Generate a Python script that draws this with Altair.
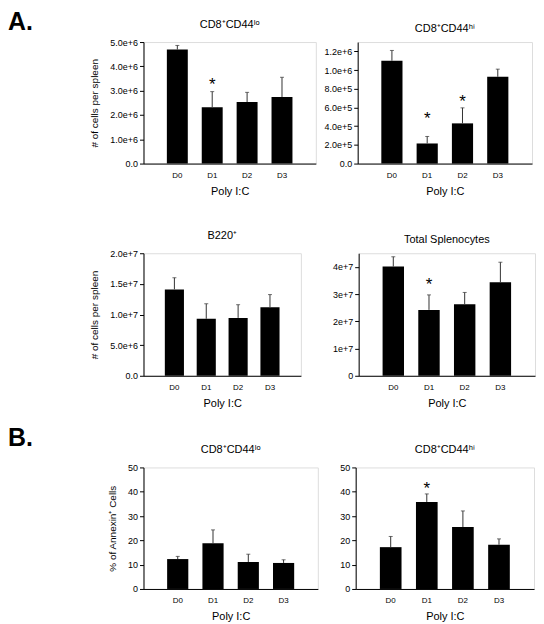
import altair as alt
import pandas as pd

days = ["D0", "D1", "D2", "D3"]

# Panel A1: CD8+CD44lo (cells per spleen)
a1_mean = [4.69e6, 2.32e6, 2.53e6, 2.74e6]
a1_top = [4.86e6, 2.96e6, 2.93e6, 3.55e6]
a1_star = [None, 3.45e6, None, None]

# Panel A2: CD8+CD44hi
a2_mean = [1.10e6, 2.15e5, 4.30e5, 9.28e5]
a2_top = [1.21e6, 2.90e5, 5.96e5, 1.01e6]
a2_star = [None, 5.3e5, 7.1e5, None]

# Panel A3: B220+
a3_mean = [1.41e7, 9.3e6, 9.45e6, 1.12e7]
a3_top = [1.60e7, 1.175e7, 1.16e7, 1.325e7]
a3_star = [None, None, None, None]

# Panel A4: Total splenocytes
a4_mean = [4.01e7, 2.42e7, 2.63e7, 3.43e7]
a4_top = [4.37e7, 2.97e7, 3.06e7, 4.17e7]
a4_star = [None, 3.5e7, None, None]

# Panel B1: % Annexin+ CD8+CD44lo
b1_mean = [12.3, 18.85, 11.1, 10.7]
b1_top = [13.4, 24.3, 14.3, 12.0]
b1_star = [None, None, None, None]

# Panel B2: % Annexin+ CD8+CD44hi
b2_mean = [17.2, 35.8, 25.5, 18.2]
b2_top = [21.6, 39.1, 32.1, 20.6]
b2_star = [None, 43.2, None, None]

FONT = "Liberation Sans"


def panel(title, mean, top, star, ymax, ticks, label_expr, width, height, ytitle=None):
    df = pd.DataFrame({"day": days, "mean": mean, "top": top, "star": star})
    x = alt.X("day:N", title="Poly I:C",
              scale=alt.Scale(paddingInner=0.4, paddingOuter=0.67),
              axis=alt.Axis(labelAngle=0, ticks=False, domainColor="black",
                            labelFontSize=8, titleFontSize=11, labelPadding=8,
                            titlePadding=6, labelColor="black", titleColor="black",
                            titleFontWeight="normal", labelFont=FONT, titleFont=FONT))
    yaxis_kwargs = dict(values=ticks, grid=False, tickColor="black", tickSize=4,
                        domainColor="black", labelFontSize=9, labelColor="black",
                        labelFont=FONT, titleFont=FONT, titleFontSize=10,
                        titleFontWeight="normal", titleColor="black", titlePadding=10,
                        labelOverlap=False, title=ytitle if ytitle else None)
    if label_expr:
        yaxis_kwargs["labelExpr"] = label_expr
    yaxis = alt.Axis(**yaxis_kwargs)
    yscale = alt.Scale(domain=[0, ymax], nice=False, zero=True)

    def Y(field):
        return alt.Y(field, type="quantitative", scale=yscale, axis=yaxis)

    base = alt.Chart(df)
    bars = base.mark_bar(color="black").encode(x=x, y=Y("mean"))
    err = base.mark_rule(color="#333333", strokeWidth=1).encode(
        x=x, y=Y("mean"), y2="top:Q")
    cap = base.mark_tick(color="#333333", thickness=1, size=4).encode(
        x=x, y=Y("top"))
    stars = base.transform_filter("datum.star != null").mark_text(
        text="*", fontSize=17, font=FONT, baseline="alphabetic", dy=10, color="black"
    ).encode(x=x, y=Y("star"))
    return alt.layer(bars, err, cap, stars).properties(
        width=width, height=height,
        title=alt.TitleParams(title, fontSize=11, font=FONT, fontWeight="normal",
                              color="black", offset=8))


sci1 = "datum.value == 0 ? '0.0' : format(datum.value, '.1e')"
sci0 = "datum.value == 0 ? '0' : format(datum.value, '.0e')"

p1 = panel("CD8⁺CD44ˡᵒ", a1_mean, a1_top, a1_star, 5e6,
           [0, 1e6, 2e6, 3e6, 4e6, 5e6], sci1, 173, 122, "# of cells per spleen")
p2 = panel("CD8⁺CD44ʰⁱ", a2_mean, a2_top, a2_star, 1.3e6,
           [0, 2e5, 4e5, 6e5, 8e5, 1e6, 1.2e6], sci1, 175, 122)
p3 = panel("B220⁺", a3_mean, a3_top, a3_star, 2e7,
           [0, 5e6, 1e7, 1.5e7, 2e7], sci1, 158, 123, "# of cells per spleen")
p4 = panel("Total Splenocytes", a4_mean, a4_top, a4_star, 4.5e7,
           [0, 1e7, 2e7, 3e7, 4e7], sci0, 177, 123)
p5 = panel("CD8⁺CD44ˡᵒ", b1_mean, b1_top, b1_star, 50,
           [0, 10, 20, 30, 40, 50], None, 175, 122, "% of Annexin⁺ Cells")
p6 = panel("CD8⁺CD44ʰⁱ", b2_mean, b2_top, b2_star, 50,
           [0, 10, 20, 30, 40, 50], None, 179, 122)

letter = dict(anchor="start", frame="group", fontSize=25, fontWeight="bold",
              font="Liberation Sans", color="black", dx=-136)

row1 = alt.hconcat(p1, p2, spacing=42, bounds="flush",
                   title=alt.TitleParams("A.", dy=20, **letter))
row2 = alt.hconcat(p3, p4, spacing=58, bounds="flush")
row3 = alt.hconcat(p5, p6, spacing=38, bounds="flush",
                   title=alt.TitleParams("B.", dy=11, **letter))

chart = alt.vconcat(alt.vconcat(row1, row2, spacing=32), row3, spacing=16).properties(
    padding=0
).configure_view(stroke="black", strokeWidth=1).configure(background="white")

chart.save("out.html", embed_options={"renderer": "svg", "actions": False})
